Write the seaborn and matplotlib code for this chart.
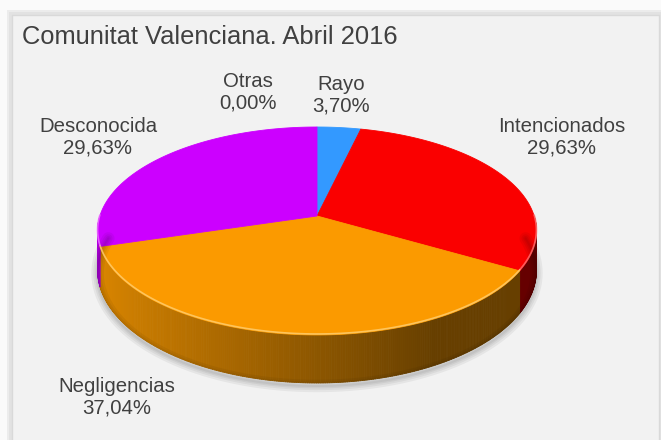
import numpy as np
import matplotlib
matplotlib.use("Agg")
import matplotlib.pyplot as plt
from matplotlib.colors import to_rgb
from matplotlib.patches import Polygon, Rectangle
from matplotlib.collections import PolyCollection
import seaborn as sns

# data (percent of fires by cause)
causes = ["Rayo", "Intencionados", "Negligencias", "Desconocida", "Otras"]
shares = [3.70, 29.63, 37.04, 29.63, 0.00]
slice_colors = ["#3399ff", "#fa0000", "#fb9a00", "#cc00ff", "#7f7f7f"]
title = "Comunitat Valenciana. Abril 2016"

# label centres in pixel coords (layout only)
label_pos = {
    "Rayo": (341, 95),
    "Intencionados": (562, 137),
    "Negligencias": (117, 397),
    "Desconocida": (98, 137),
    "Otras": (248, 92),
}

sns.set_theme(style="white")
plt.rcParams["font.family"] = ["Liberation Sans", "DejaVu Sans"]

W, H = 661, 440
fig = plt.figure(figsize=(W / 100, H / 100), dpi=100)
ax = fig.add_axes([0, 0, 1, 1])
ax.set_xlim(0, W)
ax.set_ylim(H, 0)
ax.axis("off")
fig.patch.set_facecolor("#fafafa")

# frame with soft shadow
ax.add_patch(Rectangle((7, 10), W, H, facecolor="#ececec", edgecolor="none"))
ax.add_patch(Rectangle((9, 12), W, H, facecolor="#e2e2e2", edgecolor="none"))
ax.add_patch(Rectangle((12, 15), 647, H, facecolor="#f2f2f2", edgecolor="#d9d9d9", lw=1))

# simple perspective projection of the pie disc
CX, CY = 317, 216
FX, FY, DIST = 1507, 706.7, 6.94
THICK = 48


def project(theta, r=1.0, drop=0.0):
    xx = r * np.sin(theta)
    zz = r * np.cos(theta)
    depth = DIST + zz
    x = CX + FX * xx / depth
    y = CY - FY * zz / depth + drop * ((DIST - 1) / depth) ** 1.5
    return x, y


def shade(color, theta):
    f = np.clip(0.56 - 0.32 * np.sin(theta), 0.41, 0.9)
    return tuple(c * f for c in to_rgb(color))


bounds = np.concatenate([[0], np.cumsum(shares)]) / 100 * 2 * np.pi

# shadow under the front of the pie only
tt = np.linspace(np.radians(80), np.radians(280), 200)
bx, by = project(tt, drop=THICK)
sil = np.column_stack([bx, by + 3])
for lw in [9, 6, 3.5, 1.5]:
    ax.plot(sil[:, 0], sil[:, 1], color="black", alpha=0.05, lw=lw,
            solid_capstyle="round")

# side walls (only front half is visible)
quads, qcols = [], []
for i, color in enumerate(slice_colors):
    a0, a1 = max(bounds[i], np.pi / 2), min(bounds[i + 1], 3 * np.pi / 2)
    if a1 <= a0:
        continue
    steps = max(int((a1 - a0) / np.radians(0.5)), 2)
    th = np.linspace(a0, a1, steps + 1)
    for t0, t1 in zip(th[:-1], th[1:]):
        x0, y0 = project(t0)
        x1, y1 = project(t1)
        x2, y2 = project(t1, drop=THICK)
        x3, y3 = project(t0, drop=THICK)
        quads.append([(x0, y0), (x1, y1), (x2, y2), (x3, y3)])
        qcols.append(shade(color, (t0 + t1) / 2))
ax.add_collection(PolyCollection(quads, facecolors=qcols, edgecolors=qcols, linewidths=0.6))

# top surface
for i, color in enumerate(slice_colors):
    a0, a1 = bounds[i], bounds[i + 1]
    if a1 - a0 <= 0:
        continue
    th = np.linspace(a0, a1, 200)
    rx, ry = project(th)
    pts = np.column_stack([np.concatenate([[CX], rx]), np.concatenate([[CY], ry])])
    ax.add_patch(Polygon(pts, closed=True, facecolor=color, edgecolor=color, lw=0.6))
    # bevel highlight on the front rim
    f0, f1 = max(a0, np.pi / 2), min(a1, 3 * np.pi / 2)
    if f1 > f0:
        th = np.linspace(f0, f1, 120)
        hx, hy = project(th)
        light = tuple(min(1, c * 0.6 + 0.45) for c in to_rgb(color))
        ax.plot(hx, hy - 1, color=light, lw=1.2, alpha=0.8, solid_capstyle="round")

# labels
text_color = "#404040"
for name, val in zip(causes, shares):
    x, y = label_pos[name]
    txt = f"{name}\n{val:.2f}%".replace(".", ",")
    ax.text(x, y, txt, ha="center", va="center", multialignment="center",
            fontsize=14.7, color=text_color, linespacing=1.15)

ax.text(22, 37, title, ha="left", va="center", fontsize=18.4, color=text_color)

fig.savefig("out.png", dpi=100, facecolor=fig.get_facecolor())
